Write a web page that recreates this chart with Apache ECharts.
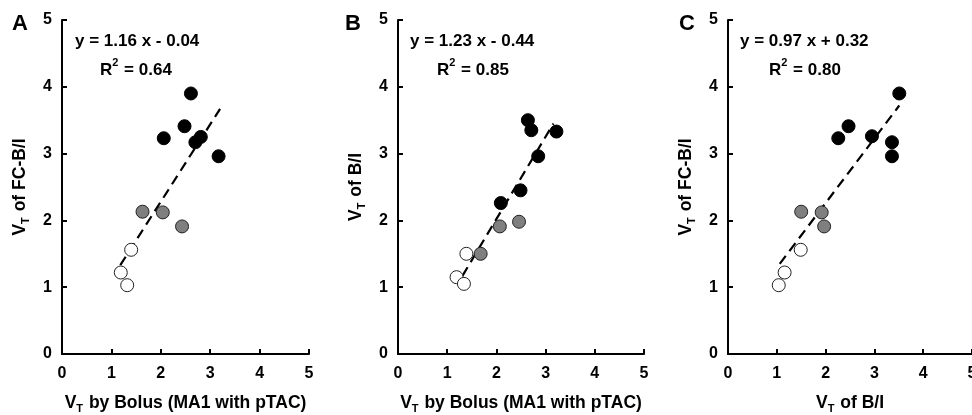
<!DOCTYPE html>
<html>
<head>
<meta charset="utf-8">
<script src="https://cdn.jsdelivr.net/npm/echarts@6/dist/echarts.min.js"></script>
<style>html,body{margin:0;padding:0;background:#fff;}#c{width:972px;height:415px;}</style>
</head>
<body>
<div id="c"></div>
<script>
// ---- data ----
const xTicks = [0, 1, 2, 3, 4, 5];
const panelLetters = ['A', 'B', 'C'];
const xNames = ['by Bolus (MA1 with pTAC)', 'by Bolus (MA1 with pTAC)', 'of B/I'];
const yNames = ['of FC-B/I', 'of B/I', 'of FC-B/I'];
const equations = ['y = 1.16 x - 0.04', 'y = 1.23 x - 0.44', 'y = 0.97 x + 0.32'];
const r2Values = ['0.64', '0.85', '0.80'];

const aBlack = [[2.61,3.90],[2.48,3.41],[2.06,3.23],[2.70,3.17],[2.81,3.25],[3.17,2.96]];
const aGray  = [[1.63,2.13],[2.04,2.12],[2.43,1.91]];
const aWhite = [[1.40,1.56],[1.19,1.22],[1.32,1.03]];
const aFit   = [[1.18,1.33],[3.20,3.67]];

const bBlack = [[2.64,3.50],[2.71,3.35],[3.22,3.33],[2.85,2.96],[2.49,2.45],[2.09,2.26]];
const bGray  = [[2.07,1.91],[2.46,1.98],[1.68,1.50]];
const bWhite = [[1.39,1.50],[1.19,1.15],[1.34,1.05]];
const bFit   = [[1.31,1.17],[3.16,3.45]];

const cBlack = [[3.51,3.90],[2.47,3.41],[2.26,3.23],[2.95,3.26],[3.36,3.17],[3.36,2.96]];
const cGray  = [[1.50,2.13],[1.92,2.12],[1.97,1.91]];
const cWhite = [[1.49,1.56],[1.16,1.22],[1.04,1.03]];
const cFit   = [[1.06,1.35],[3.51,3.72]];

const panels = [
  {black: aBlack, gray: aGray, white: aWhite, fit: aFit},
  {black: bBlack, gray: bGray, white: bWhite, fit: bFit},
  {black: cBlack, gray: cGray, white: cWhite, fit: cFit}
];

// ---- layout ----
const FONT = '"Liberation Sans", Arial, sans-serif';
const grids = [
  {left: 62, top: 20, width: 247, bottom: 61, containLabel: false, outerBoundsMode: 'none'},
  {left: 398, top: 20, width: 246, bottom: 61, containLabel: false, outerBoundsMode: 'none'},
  {left: 728, top: 20, width: 244, bottom: 61, containLabel: false, outerBoundsMode: 'none'}
];
const letterPos = [[12, 25], [345, 25], [679, 25]];
const eqPos = [[75, 43], [410, 43], [740, 43]];
const r2Pos = [[100, 70], [437, 70], [769, 70]];

const richName = {
  b: {fontFamily: FONT, fontWeight: 'bold', fontSize: 17.5, color: '#000', lineHeight: 20},
  s: {fontFamily: FONT, fontWeight: 'bold', fontSize: 11, color: '#000', lineHeight: 20, verticalAlign: 'bottom', padding: [0, 1, -1, 0]}
};

const axisCommon = {
  min: 0, max: 5, interval: 1,
  axisLine: {lineStyle: {color: '#000', width: 2}},
  axisTick: {inside: true, length: 5, lineStyle: {color: '#000', width: 2}},
  splitLine: {show: false},
  axisLabel: {color: '#000', fontFamily: FONT, fontWeight: 'bold', fontSize: 16}
};

const xAxis = [], yAxis = [], series = [], graphic = [];
panels.forEach((p, i) => {
  xAxis.push(Object.assign({}, axisCommon, {
    type: 'value', gridIndex: i,
    axisLabel: Object.assign({}, axisCommon.axisLabel, {margin: 12, formatter: v => xTicks.includes(v) ? String(v) : ''}),
    name: '{b|V}{s|T}{b| ' + xNames[i] + '}',
    nameLocation: 'middle', nameGap: 39,
    nameTextStyle: {rich: richName}
  }));
  yAxis.push(Object.assign({}, axisCommon, {
    type: 'value', gridIndex: i,
    axisLabel: Object.assign({}, axisCommon.axisLabel, {margin: 10}),
    name: '{b|V}{s|T}{b| ' + yNames[i] + '}',
    nameLocation: 'middle', nameGap: 32,
    nameTextStyle: {rich: richName}
  }));
  series.push({
    type: 'line', xAxisIndex: i, yAxisIndex: i, data: p.fit, symbol: 'none', silent: true,
    lineStyle: {color: '#000', width: 2.2, type: [10, 6]}, z: 1
  });
  series.push({
    type: 'scatter', xAxisIndex: i, yAxisIndex: i, data: p.black, symbolSize: 13,
    itemStyle: {color: '#000', borderColor: '#000', borderWidth: 1, opacity: 1}, z: 3
  });
  series.push({
    type: 'scatter', xAxisIndex: i, yAxisIndex: i, data: p.gray, symbolSize: 13,
    itemStyle: {color: '#7f7f7f', borderColor: '#222', borderWidth: 1, opacity: 1}, z: 3
  });
  series.push({
    type: 'scatter', xAxisIndex: i, yAxisIndex: i, data: p.white, symbolSize: 13,
    itemStyle: {color: '#fff', borderColor: '#222', borderWidth: 1, opacity: 1}, z: 3
  });
  graphic.push({
    type: 'text', left: letterPos[i][0], top: letterPos[i][1] - 12,
    style: {text: panelLetters[i], fill: '#000', font: 'bold 22px ' + FONT}
  });
  graphic.push({
    type: 'text', left: eqPos[i][0], top: eqPos[i][1] - 10,
    style: {text: equations[i], fill: '#000', font: 'bold 17px ' + FONT}
  });
  graphic.push({
    type: 'text', left: r2Pos[i][0], top: r2Pos[i][1] - 13,
    style: {
      text: '{m|R}{sup|2}{m| = ' + r2Values[i] + '}',
      rich: {
        m: {fontFamily: FONT, fontWeight: 'bold', fontSize: 17, fill: '#000', lineHeight: 22, verticalAlign: 'bottom'},
        sup: {fontFamily: FONT, fontWeight: 'bold', fontSize: 11, fill: '#000', lineHeight: 22, verticalAlign: 'top', padding: [0, 1, 0, 0]}
      }
    }
  });
});

const chart = echarts.init(document.getElementById('c'), null, {renderer: 'canvas'});
chart.setOption({
  animation: false,
  backgroundColor: '#fff',
  grid: grids,
  xAxis: xAxis,
  yAxis: yAxis,
  series: series,
  graphic: graphic
});
</script>
</body>
</html>
